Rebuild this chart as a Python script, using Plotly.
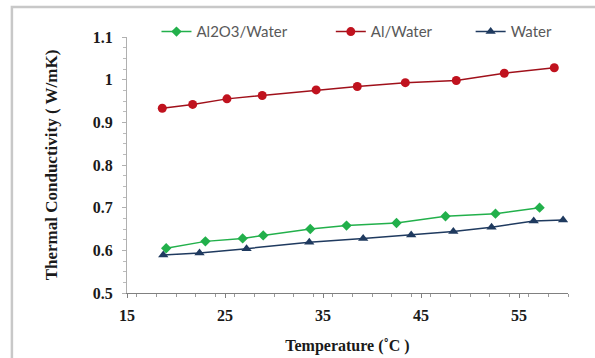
import plotly.graph_objects as go

# Data
t_al2o3 = [19.0, 23.0, 26.8, 28.9, 33.7, 37.4, 42.5, 47.5, 52.6, 57.1]
k_al2o3 = [0.605, 0.621, 0.628, 0.635, 0.650, 0.658, 0.664, 0.680, 0.686, 0.700]

t_al = [18.6, 21.7, 25.2, 28.8, 34.3, 38.5, 43.4, 48.6, 53.5, 58.6]
k_al = [0.933, 0.942, 0.955, 0.963, 0.976, 0.984, 0.993, 0.998, 1.015, 1.028]

t_water = [18.7, 22.4, 27.2, 33.6, 39.1, 44.0, 48.3, 52.2, 56.5, 59.5]
k_water = [0.589, 0.594, 0.604, 0.619, 0.628, 0.636, 0.644, 0.654, 0.669, 0.671]

x_ticks = [15, 25, 35, 45, 55]
y_ticks = [0.5, 0.6, 0.7, 0.8, 0.9, 1.0, 1.1]
y_tick_text = ["0.5", "0.6", "0.7", "0.8", "0.9", "1", "1.1"]

fig = go.Figure()
fig.add_trace(go.Scatter(
    x=t_al2o3, y=k_al2o3, mode="lines+markers", name="Al2O3/Water", legend="legend",
    line=dict(color="#22b04b", width=1.5),
    marker=dict(symbol="diamond", size=8, color="#22b04b")))
fig.add_trace(go.Scatter(
    x=t_al, y=k_al, mode="lines+markers", name="Al/Water", legend="legend2",
    line=dict(color="#a0101a", width=1.5),
    marker=dict(symbol="circle", size=9, color="#c0121e")))
fig.add_trace(go.Scatter(
    x=t_water, y=k_water, mode="lines+markers", name="Water", legend="legend3",
    line=dict(color="#1f3a5f", width=1.5),
    marker=dict(symbol="triangle-up", size=9, color="#1f3a5f")))

leg_font = dict(family="Lato", size=15, color="#595959")
def leg(x):
    return dict(orientation="h", x=x, y=0.911, xref="container", yref="container",
                xanchor="left", yanchor="middle",
                font=leg_font, bgcolor="rgba(0,0,0,0)")

fig.update_layout(
    width=595, height=358,
    margin=dict(l=127, r=27, t=37, b=65, autoexpand=False),
    paper_bgcolor="white", plot_bgcolor="white",
    showlegend=True,
    legend=leg(0.263), legend2=leg(0.556), legend3=leg(0.791),
    shapes=[dict(type="rect", xref="paper", yref="paper",
                 x0=-0.261, x1=1.3, y0=-0.5, y1=1.117,
                 line=dict(color="#c8c8c8", width=2.5), layer="below")],
)
tick_font = dict(family="Liberation Serif", size=16, color="#1a1a1a", weight="bold")

fig.update_xaxes(
    range=[15, 60], tickvals=x_ticks, ticktext=[str(v) for v in x_ticks],
    showgrid=False, zeroline=False,
    showline=True, linecolor="#808080", linewidth=1,
    ticks="outside", ticklen=4, tickcolor="#808080",
    minor=dict(dtick=2, ticks="outside", ticklen=3, tickcolor="#999999"),
    tickfont=tick_font, ticklabelstandoff=4,
    title=dict(text="Temperature (˚C )",
               font=dict(family="Liberation Serif", size=16, color="#1a1a1a", weight="bold"),
               standoff=16),
)
fig.update_yaxes(
    range=[0.5, 1.1], tickvals=y_ticks, ticktext=y_tick_text,
    showgrid=False, zeroline=False,
    showline=True, linecolor="#b0b0b0", linewidth=1,
    ticks="outside", ticklen=4, tickcolor="#b0b0b0",
    minor=dict(dtick=0.025, ticks="outside", ticklen=3, tickcolor="#bbbbbb"),
    tickfont=tick_font, ticklabelstandoff=6,
    title=dict(text="Thermal Conductivity ( W/mK)",
               font=dict(family="Liberation Serif", size=17, color="#1a1a1a", weight="bold"),
               standoff=30),
)

fig.write_html("out.html", config={"displayModeBar": False},
               post_script="document.body.style.margin='0';")
